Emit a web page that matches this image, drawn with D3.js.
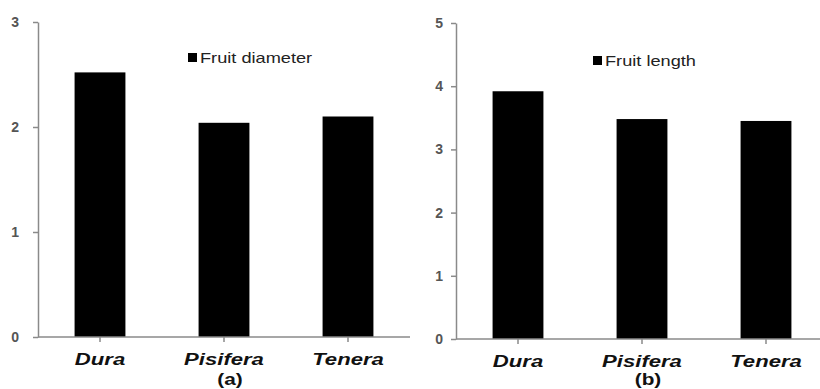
<!DOCTYPE html>
<html>
<head>
<meta charset="utf-8">
<script src="https://cdn.jsdelivr.net/npm/d3@7"></script>
<style>
  body { margin: 0; background: #fff; }
  svg { display: block; font-family: Arial, "Liberation Sans", sans-serif; }
</style>
</head>
<body>
<svg id="chart" width="820" height="389"></svg>
<script>
// data
var varieties = ['Dura', 'Pisifera', 'Tenera']
var diameter = [2.52, 2.04, 2.10]
var length = [3.92, 3.48, 3.45]
var diameterTicks = [0, 1, 2, 3]
var lengthTicks = [0, 1, 2, 3, 4, 5]

// style
var colorBar = '#000'
var colorAxis = '#8a8a8a'
var colorTick = '#555'
var stretch = 1.3 // the source image is horizontally stretched

var svg = d3.select('#chart')

function panel(opts) {
  var x = d3.scaleBand()
    .domain(varieties)
    .range([opts.x0, opts.x1])
    .paddingInner(0.59)
    .paddingOuter(0.295)
  var y = d3.scaleLinear()
    .domain([0, d3.max(opts.ticks)])
    .range([opts.y0, opts.y1])

  var g = svg.append('g')

  g.selectAll('rect.bar')
    .data(opts.values)
    .enter().append('rect')
    .attr('class', 'bar')
    .attr('x', function(d, i) { return x(varieties[i]) })
    .attr('width', x.bandwidth())
    .attr('y', function(d) { return y(d) })
    .attr('height', function(d) { return y(0) - y(d) })
    .attr('fill', colorBar)

  var ya = g.append('g')
    .attr('transform', 'translate(' + opts.x0 + ',0)')
    .call(d3.axisLeft(y).tickValues(opts.ticks).tickFormat(d3.format('d'))
      .tickSize(5).tickSizeOuter(0).tickPadding(opts.yPad))
  ya.selectAll('path, line').attr('stroke', colorAxis).attr('stroke-width', 1.5)
  ya.selectAll('text')
    .attr('fill', colorTick)
    .style('font-size', '14px')
    .style('font-weight', 'bold')

  var xa = g.append('g')
    .attr('transform', 'translate(0,' + opts.y0 + ')')
    .call(d3.axisBottom(x).tickSize(5).tickSizeOuter(0).tickPadding(11))
  xa.select('path.domain').attr('d', 'M' + opts.x0 + ',0H' + opts.xEnd)
  xa.selectAll('path, line').attr('stroke', colorAxis).attr('stroke-width', 1.5)
  xa.selectAll('text')
    .attr('fill', '#111')
    .attr('transform', 'scale(' + stretch + ',1)')
    .style('font-size', '17px')
    .style('font-weight', 'bold')
    .style('font-style', 'italic')

  // panel letter
  g.append('text')
    .attr('transform', 'translate(' + (x('Pisifera') + x.bandwidth() / 2 + 6) + ',385) scale(' + stretch + ',1)')
    .attr('text-anchor', 'middle')
    .attr('fill', '#111')
    .style('font-size', '16px')
    .style('font-weight', 'bold')
    .text(opts.letter)

  // legend
  var lg = g.append('g')
    .attr('transform', 'translate(' + opts.legend[0] + ',' + opts.legend[1] + ')')
  lg.append('rect')
    .attr('x', -12).attr('y', -10)
    .attr('width', 9).attr('height', 9)
    .attr('fill', colorBar)
  lg.append('text')
    .attr('transform', 'scale(' + stretch + ',1)')
    .attr('fill', '#222')
    .style('font-size', '14px')
    .text(opts.label)
}

panel({
  values: diameter, ticks: diameterTicks, label: 'Fruit diameter', letter: '(a)',
  x0: 38, x1: 410, xEnd: 410, y0: 337, y1: 22, yPad: 14, legend: [200, 63]
})

panel({
  values: length, ticks: lengthTicks, label: 'Fruit length', letter: '(b)',
  x0: 456, x1: 828, xEnd: 828, y0: 339, y1: 23, yPad: 8, legend: [605, 66]
})
</script>
</body>
</html>
